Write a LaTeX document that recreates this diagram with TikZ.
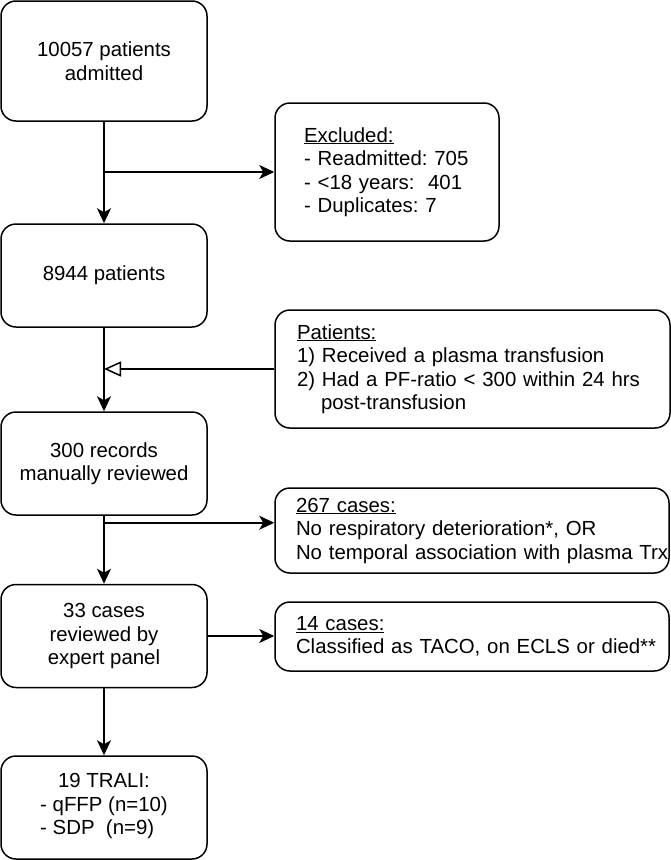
\documentclass[tikz,border=0pt]{standalone}
\usepackage{fontspec}
\setmainfont{Liberation Sans}
\usetikzlibrary{arrows.meta}
\begin{document}
\begin{tikzpicture}[x=1pt, y=-1pt,
  box/.style={draw=black, line width=1.5pt, rounded corners=15pt, fill=white, align=center, minimum width=206pt, minimum height=103pt, inner sep=0pt, font=\fontsize{20.4}{23.5}\selectfont\frenchspacing},
  sidebox/.style={draw=black, line width=1.5pt, rounded corners=15pt, fill=white, align=left, inner ysep=0pt, font=\fontsize{20.4}{23.5}\selectfont\frenchspacing},
  arr/.style={line width=1.5pt, -{Stealth[length=15pt,width=14pt,inset=4pt]}},
  openarr/.style={line width=1.5pt, -{Triangle[open,length=17pt,width=15pt]}}]
 \useasboundingbox (0,0) rectangle (671,860);

 \node[box, minimum height=120pt] (admit) at (104,61) {10057 patients\\admitted};
 \node[box] (p8944) at (104,275.5) {8944 patients};
 \node[box] (review) at (104,463.5) {300 records\\manually reviewed};
 \node[box] (panel) at (104,636) {33 cases\\reviewed by\\expert panel};
 \node[box] (trali) at (104,807.5) {19 TRALI:\\\begin{tabular}[t]{@{}l@{}}- qFFP (n=10)\\- SDP\ \ (n=9)\end{tabular}};

 \node[sidebox, text width=166pt, inner xsep=29pt, minimum height=138pt] (excl) at (387,172) {\underline{Excluded:}\\\mbox{- Readmitted: 705}\\- <18 years:\ \ 401\\- Duplicates: 7};
 \node[sidebox, text width=351pt, inner xsep=22pt, minimum height=118pt] (crit) at (472.5,369) {\underline{Patients:}\\1) Received a plasma transfusion\\2) Had a PF-ratio < 300 within 24 hrs\\\hspace*{24pt}post-transfusion};
 \node[sidebox, text width=352pt, inner xsep=21pt, minimum height=85pt] (c267) at (472,530.5) {\underline{267 cases:}\\No respiratory deterioration*, OR\\\mbox{No temporal association with plasma Trx}};
 \node[sidebox, text width=352pt, inner xsep=21pt, minimum height=69pt] (c14) at (472,636.5) {\underline{14 cases:}\\\mbox{Classified as TACO, on ECLS or died**}};

 \draw[arr] (admit) -- (p8944);
 \coordinate (j1) at (admit.south |- excl.west);
 \draw[arr] (j1) -- (excl.west);
 \draw[arr] (p8944) -- (review);
 \draw[openarr] (crit.west) -- (crit.west -| p8944.south);
 \draw[arr] (review) -- (panel);
 \coordinate (j3) at ([yshift=-7pt]review.south);
 \draw[arr] (j3) -- (j3 -| c267.west);
 \draw[arr] (panel.east) -- (panel.east -| c14.west);
 \draw[arr] (panel) -- (trali);
\end{tikzpicture}
\end{document}
